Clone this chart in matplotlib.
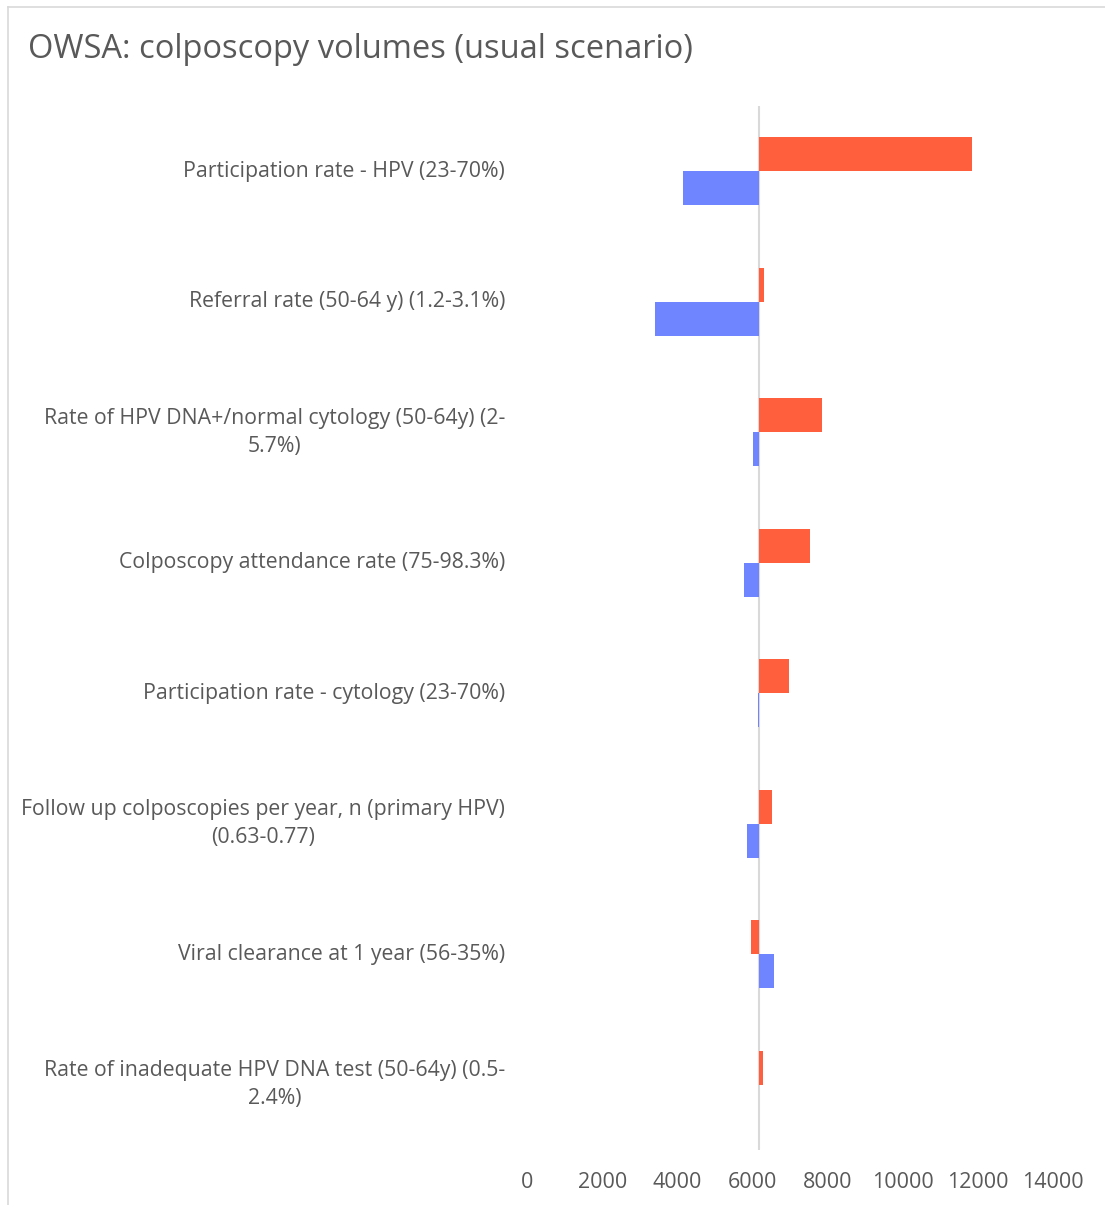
import matplotlib
matplotlib.use("Agg")
import matplotlib.pyplot as plt
from matplotlib.lines import Line2D

plt.rcParams['font.family'] = ['Open Sans', 'DejaVu Sans']

# One-way sensitivity analysis: annual colposcopy volumes
parameters = [
    "Participation rate - HPV (23-70%)",
    "Referral rate (50-64 y) (1.2-3.1%)",
    "Rate of HPV DNA+/normal cytology (50-64y) (2-\n5.7%)",
    "Colposcopy attendance rate (75-98.3%)",
    "Participation rate - cytology (23-70%)",
    "Follow up colposcopies per year, n (primary HPV)\n(0.63-0.77)",
    "Viral clearance at 1 year (56-35%)",
    "Rate of inadequate HPV DNA test (50-64y) (0.5-\n2.4%)",
]
base_case = 6175
upper_values = [11845, 6310, 7850, 7530, 6975, 6520, 5960, 6280]   # red
lower_values = [4150, 3405, 6015, 5775, 6150, 5855, 6575, 6175]    # blue
x_ticks = [0, 2000, 4000, 6000, 8000, 10000, 12000, 14000]

RED = '#FF5F3D'
BLUE = '#6F84FF'
TEXT = '#595959'

W, H = 1105, 1205
fig = plt.figure(figsize=(W / 100, H / 100), dpi=100)

# plot area in pixel coordinates
left_px, right_px = 527, 1053
top_px, bottom_px = 106, 1150
ax = fig.add_axes([left_px / W, 1 - bottom_px / H,
                   (right_px - left_px) / W, (bottom_px - top_px) / H])

n = len(parameters)
pos = list(range(n))
bar_h = 0.26
ax.barh([p - bar_h / 2 for p in pos],
        [u - base_case for u in upper_values], left=base_case,
        height=bar_h, color=RED)
ax.barh([p + bar_h / 2 for p in pos],
        [l - base_case for l in lower_values], left=base_case,
        height=bar_h, color=BLUE)
ax.axvline(base_case, color='#D9D9D9', lw=1.5, zorder=0)

ax.set_xlim(0, 14000)
ax.set_ylim(n - 0.5, -0.5)
ax.set_xticks(x_ticks)
ax.set_xticklabels([str(t) for t in x_ticks], color=TEXT, fontsize=15.5)
ax.tick_params(axis='x', length=0, pad=16)
ax.set_yticks([])
for s in ax.spines.values():
    s.set_visible(False)

for p, label in zip(pos, parameters):
    ax.text(-580, p, label, ha='right', va='center', multialignment='center',
            fontsize=15.3, color=TEXT, linespacing=1.45)

fig.text(28 / W, 1 - 50 / H, "OWSA: colposcopy volumes (usual scenario)",
         fontsize=23.5, color=TEXT, va='center', ha='left')

# chart frame
fig.add_artist(Line2D([8 / W, 1], [1 - 7 / H, 1 - 7 / H],
                      transform=fig.transFigure, color='#D9D9D9', lw=1.2))
fig.add_artist(Line2D([8 / W, 8 / W], [0, 1 - 7 / H],
                      transform=fig.transFigure, color='#D9D9D9', lw=1.2))

fig.savefig("out.png", dpi=100)
